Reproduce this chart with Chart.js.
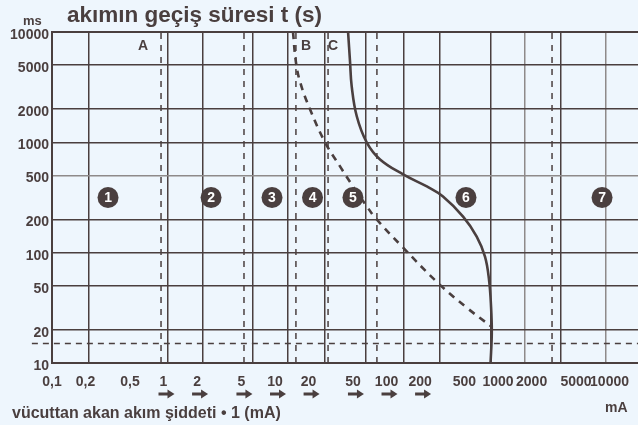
<!DOCTYPE html>
<html>
<head>
<meta charset="utf-8">
<script src="https://cdn.jsdelivr.net/npm/chart.js@4/dist/chart.umd.min.js"></script>
<style>
  html, body { margin: 0; padding: 0; background: #eef6fd; }
  canvas { display: block; }
</style>
</head>
<body>
<canvas id="chart" width="638" height="425"></canvas>
<script>
/* current vs. time zone chart, log / log */
var INK = "#4a3f3f";
var GREY = "#8e8a8a";
var FONT = "'Liberation Sans', Arial, sans-serif";

// axis ticks
var yTicks = [10, 20, 50, 100, 200, 500, 1000, 2000, 5000, 10000];
var xTickVals = [0.1, 0.2, 0.5, 1, 2, 5, 10, 20, 50, 100, 200, 500, 1000, 2000, 5000, 10000];
var xTickText = ["0,1", "0,2", "0,5", "1", "2", "5", "10", "20", "50", "100", "200", "500", "1000", "2000", "5000", "10000"];
var arrowVals = [1, 2, 5, 10, 20, 50, 100, 200];

// solid grid lines (mA) and the faint ones
var gridVals = [0.215, 1.1, 2.26, 6.35, 13.1, 28.1, 65.5, 144, 302, 865, 1747, 3673, 9310];
var gridFaint = [1747, 9310];
// dashed zone boundaries (mA) and horizontal dashed line (ms)
var dashVals = [0.95, 5.27, 15.4, 29.9, 82, 3050];
var hDashY = 15;

// curves
var solidX = [45.2, 47.1, 48.7, 54.1, 66.4, 87.5, 141, 230, 321, 486, 644, 764, 830, 866, 879, 857];
var solidY = [10000, 5340, 3230, 1723, 1000, 700, 512, 398, 323, 212, 140, 92, 57, 32.3, 18.7, 10];
var dashX = [14.5, 15.4, 16.8, 20.6, 28.1, 38.3, 50.1, 66.8, 78.9, 141, 290, 527, 883];
var dashY = [10000, 5340, 3510, 1995, 1000, 605, 398, 262, 208, 111, 53, 31.6, 21.2];

// zone numbers
var zoneX = [0.318, 2.67, 9.4, 21.7, 50, 516, 8570];
var zoneY = [316, 316, 316, 316, 316, 316, 316];
var zoneText = ["1", "2", "3", "4", "5", "6", "7"];

// boundary letters
var letterText = ["A", "B", "C"];
var letterX = [0.655, 19.0, 33.1];
var letterY = [7460, 7460, 7460];

function pts(xs, ys) {
  return xs.map(function (x, i) { return { x: x, y: ys[i] }; });
}

var datasets = [];
dashVals.forEach(function (v) {
  datasets.push({
    data: [{ x: v, y: 10 }, { x: v, y: 10000 }],
    borderColor: INK, borderWidth: 1.5, borderDash: [6, 6],
    pointRadius: 0, fill: false
  });
});
datasets.push({
  data: [{ x: 0.066, y: hDashY }, { x: 18000, y: hDashY }],
  borderColor: INK, borderWidth: 1.5, borderDash: [6, 5],
  pointRadius: 0, fill: false, clip: false
});
datasets.push({
  data: pts(dashX, dashY),
  borderColor: INK, borderWidth: 2.6, borderDash: [7, 6],
  pointRadius: 0, tension: 0.4, fill: false
});
datasets.push({
  data: pts(solidX, solidY),
  borderColor: INK, borderWidth: 2.6,
  pointRadius: 0, tension: 0.4, fill: false
});
var zoneIdx = datasets.length;
datasets.push({
  data: pts(zoneX, zoneY),
  showLine: false, pointRadius: 10.5, pointBorderWidth: 0,
  pointBackgroundColor: INK
});

var textPlugin = {
  id: "texts",
  afterDraw: function (chart) {
    var ctx = chart.ctx;
    var xs = chart.scales.x, ys = chart.scales.y;
    ctx.save();
    ctx.fillStyle = INK;

    // title and unit
    ctx.textBaseline = "alphabetic";
    ctx.textAlign = "left";
    ctx.font = "bold 22.5px " + FONT;
    ctx.fillText("akımın geçiş süresi t (s)", 67, 22);
    ctx.font = "bold 13px " + FONT;
    ctx.fillText("ms", 23, 25);

    // letters
    ctx.font = "bold 14px " + FONT;
    ctx.textAlign = "center";
    ctx.textBaseline = "middle";
    letterText.forEach(function (t, i) {
      ctx.fillText(t, xs.getPixelForValue(letterX[i]), ys.getPixelForValue(letterY[i]));
    });

    // zone numbers
    var meta = chart.getDatasetMeta(zoneIdx);
    ctx.fillStyle = "#ffffff";
    ctx.font = "bold 14px " + FONT;
    meta.data.forEach(function (el, i) {
      ctx.fillText(zoneText[i], el.x, el.y + 1);
    });

    // arrows under tick labels
    ctx.fillStyle = INK;
    arrowVals.forEach(function (v) {
      var cx = xs.getPixelForValue(v) + 3, cy = 394;
      ctx.fillRect(cx - 8, cy - 1.5, 10, 3);
      ctx.beginPath();
      ctx.moveTo(cx + 1, cy - 4.5);
      ctx.lineTo(cx + 8, cy);
      ctx.lineTo(cx + 1, cy + 4.5);
      ctx.closePath();
      ctx.fill();
    });

    // axis captions
    ctx.textAlign = "left";
    ctx.textBaseline = "alphabetic";
    ctx.font = "bold 16px " + FONT;
    ctx.fillText("vücuttan akan akım şiddeti • 1 (mA)", 12, 418);
    ctx.font = "bold 14px " + FONT;
    ctx.fillText("mA", 605, 412);
    ctx.restore();
  }
};

function noPad(axis) {
  axis.paddingLeft = 0;
  axis.paddingRight = 0;
}

new Chart(document.getElementById("chart"), {
  type: "line",
  data: { datasets: datasets },
  plugins: [textPlugin],
  options: {
    responsive: false,
    animation: false,
    layout: { autoPadding: false, padding: { top: 32, left: 0, right: 0, bottom: 0 } },
    plugins: { legend: { display: false }, tooltip: { enabled: false } },
    scales: {
      x: {
        type: "logarithmic", position: "bottom", min: 0.1, max: 18000,
        afterBuildTicks: function (axis) { axis.ticks = xTickVals.map(function (v) { return { value: v }; }); },
        afterFit: function (axis) { axis.height = 62; noPad(axis); },
        grid: { display: false, drawTicks: false },
        border: { display: true, color: INK, width: 2 },
        ticks: {
          autoSkip: false, maxRotation: 0, padding: 11, color: INK,
          font: { family: FONT, size: 14, weight: "bold" },
          callback: function (v, i) { return xTickText[i]; }
        }
      },
      xg: {
        type: "logarithmic", position: "top", min: 0.1, max: 18000,
        afterBuildTicks: function (axis) { axis.ticks = gridVals.map(function (v) { return { value: v }; }); },
        afterFit: function (axis) { axis.height = 0; noPad(axis); },
        grid: {
          drawTicks: false, lineWidth: 1.5,
          color: function (c) { return gridFaint.indexOf(c.tick && c.tick.value) >= 0 ? GREY : INK; }
        },
        border: { display: true, color: INK, width: 2 },
        ticks: { display: false }
      },
      y: {
        type: "logarithmic", position: "left", min: 10, max: 10000,
        afterBuildTicks: function (axis) { axis.ticks = yTicks.map(function (v) { return { value: v }; }); },
        afterFit: function (axis) { axis.width = 52; },
        grid: {
          drawTicks: false, lineWidth: 1.5,
          color: function (c) { return c.tick && c.tick.value === 500 ? GREY : INK; }
        },
        border: { display: true, color: INK, width: 2 },
        ticks: {
          autoSkip: false, padding: 3, labelOffset: 3, color: INK,
          font: { family: FONT, size: 14, weight: "bold" },
          callback: function (v, i) { return String(yTicks[i]); }
        }
      }
    }
  }
});
</script>
</body>
</html>
